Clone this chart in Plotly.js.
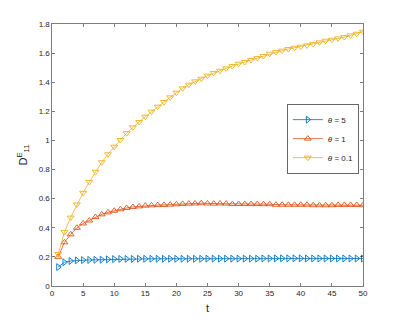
<!DOCTYPE html>
<html>
<head>
<meta charset="utf-8">
<script src="https://cdn.plot.ly/plotly-3.0.1.min.js"></script>
<style>
  html, body { margin: 0; padding: 0; background: #fff; }
  #plot { width: 402px; height: 322px; }
</style>
</head>
<body>
<div id="plot"></div>
<script>
const t = [];
for (let i = 1; i <= 50; i++) t.push(i);

// theta = 5
const d5 = [
  0.130, 0.163, 0.172, 0.176, 0.178, 0.179, 0.180, 0.181, 0.183, 0.185,
  0.186, 0.186, 0.186, 0.187, 0.187, 0.187, 0.187, 0.187, 0.187, 0.187,
  0.187, 0.187, 0.187, 0.187, 0.188, 0.188, 0.188, 0.188, 0.188, 0.188,
  0.188, 0.188, 0.188, 0.189, 0.189, 0.190, 0.190, 0.190, 0.190, 0.190,
  0.189, 0.189, 0.189, 0.189, 0.189, 0.189, 0.189, 0.189, 0.189, 0.189,
];

// theta = 1
const d1 = [
  0.200, 0.300, 0.355, 0.400, 0.430, 0.450, 0.474, 0.492, 0.506, 0.517,
  0.527, 0.536, 0.543, 0.547, 0.552, 0.554, 0.556, 0.557, 0.559, 0.561,
  0.564, 0.566, 0.567, 0.569, 0.567, 0.566, 0.567, 0.566, 0.563, 0.563,
  0.563, 0.563, 0.563, 0.562, 0.562, 0.558, 0.558, 0.558, 0.558, 0.558,
  0.558, 0.555, 0.555, 0.555, 0.555, 0.557, 0.557, 0.557, 0.557, 0.555,
];

// theta = 0.1
const d01 = [
  0.220, 0.370, 0.470, 0.560, 0.640, 0.715, 0.785, 0.850, 0.905, 0.957,
  1.003, 1.050, 1.090, 1.127, 1.163, 1.198, 1.232, 1.264, 1.296, 1.328,
  1.358, 1.383, 1.406, 1.424, 1.445, 1.463, 1.479, 1.495, 1.511, 1.527,
  1.539, 1.553, 1.566, 1.580, 1.596, 1.607, 1.617, 1.628, 1.637, 1.644,
  1.653, 1.662, 1.674, 1.685, 1.692, 1.701, 1.710, 1.722, 1.733, 1.747,
];

const names = ['<i>θ</i> = 5', '<i>θ</i> = 1', '<i>θ</i> = 0.1'];
const colors = ['#0072BD', '#D95319', '#EDB120'];
const symbols = ['triangle-right-open', 'triangle-up-open', 'triangle-down-open'];
const series = [d5, d1, d01];

const xTicks = [0, 5, 10, 15, 20, 25, 30, 35, 40, 45, 50];
const yTicks = [0, 0.2, 0.4, 0.6, 0.8, 1, 1.2, 1.4, 1.6, 1.8];
const yTickText = ['0', '0.2', '0.4', '0.6', '0.8', '1', '1.2', '1.4', '1.6', '1.8'];

function makeTrace(y, i) {
  return {
    x: t,
    y: y,
    name: names[i],
    type: 'scatter',
    mode: 'lines+markers',
    line: { color: colors[i], width: 0.8 },
    marker: {
      symbol: symbols[i],
      size: 6,
      color: colors[i],
      line: { color: colors[i], width: 0.9 },
    },
  };
}

const data = series.map(makeTrace);

const fontFamily = 'Liberation Sans, Arial, sans-serif';
const axisFont = { family: fontFamily, size: 8, color: '#262626' };

const layout = {
  width: 402,
  height: 322,
  paper_bgcolor: '#fff',
  plot_bgcolor: '#fff',
  margin: { l: 52, r: 39, t: 24, b: 36 },
  showlegend: true,
  legend: {
    x: 0.756,
    y: 0.693,
    xanchor: 'left',
    yanchor: 'top',
    bgcolor: '#fff',
    bordercolor: '#262626',
    borderwidth: 0.7,
    font: { family: fontFamily, size: 8, color: '#262626' },
    itemwidth: 30,
    tracegroupgap: 0,
  },
  xaxis: {
    range: [0, 50],
    tickvals: xTicks,
    ticks: 'inside',
    ticklen: 3,
    tickcolor: '#262626',
    tickwidth: 0.6,
    showline: true,
    linecolor: '#262626',
    linewidth: 0.6,
    mirror: 'allticks',
    showgrid: false,
    zeroline: false,
    tickfont: axisFont,
    title: { text: 't', font: { family: fontFamily, size: 11, color: '#262626' }, standoff: 6 },
  },
  yaxis: {
    range: [0, 1.8],
    tickvals: yTicks,
    ticktext: yTickText,
    ticks: 'inside',
    ticklen: 3,
    tickcolor: '#262626',
    tickwidth: 0.6,
    showline: true,
    linecolor: '#262626',
    linewidth: 0.6,
    mirror: 'allticks',
    showgrid: false,
    zeroline: false,
    tickfont: axisFont,
    title: { text: 'D<sup>E</sup><sub>11</sub>', font: { family: fontFamily, size: 11, color: '#262626' }, standoff: 8 },
  },
};

Plotly.newPlot('plot', data, layout, { displayModeBar: false, staticPlot: true });
</script>
</body>
</html>
